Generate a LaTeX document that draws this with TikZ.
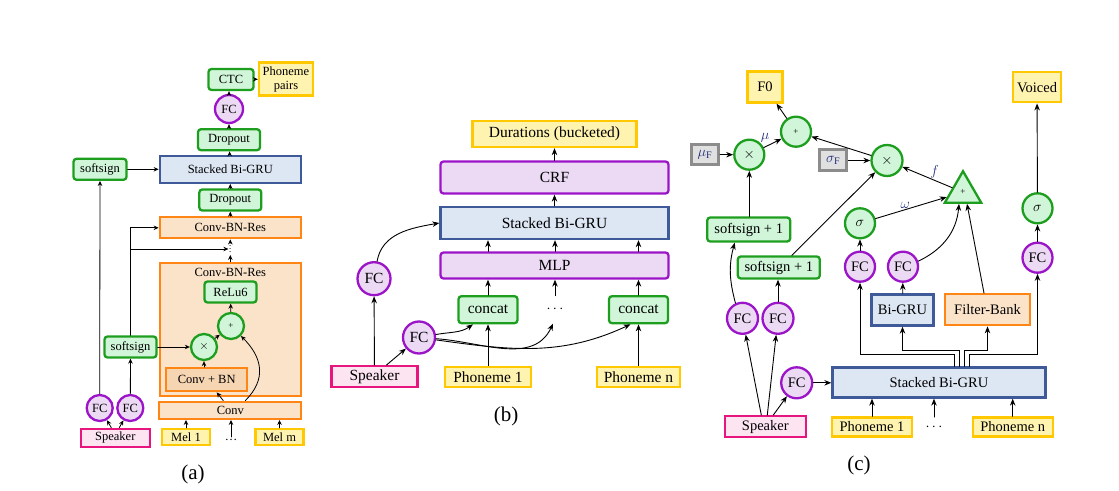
\documentclass[tikz,border=0pt]{standalone}
\usepackage{fontspec}
\setmainfont{Liberation Serif}
\usetikzlibrary{arrows.meta,shapes.geometric}
\tikzset{>={Stealth[length=7pt,width=5.5pt]}}
\definecolor{LeafGreen}{HTML}{1E9E1E}
\definecolor{MintGreen}{HTML}{D0F5D8}
\definecolor{SteelBlue}{HTML}{3F5A99}
\definecolor{IceBlue}{HTML}{DDE6F3}
\definecolor{Tangerine}{HTML}{FF8514}
\definecolor{Peach}{HTML}{FAE3C9}
\definecolor{DeepPeach}{HTML}{F6D5B2}
\definecolor{Gold}{HTML}{FFC800}
\definecolor{Cream}{HTML}{FFF3B0}
\definecolor{Magenta}{HTML}{E8157F}
\definecolor{Blush}{HTML}{FCE4F1}
\definecolor{Violet}{HTML}{9B14C8}
\definecolor{Lavender}{HTML}{ECDAF4}
\definecolor{Navy}{HTML}{26307A}
\colorlet{GreenLine}{LeafGreen}
\colorlet{GreenFill}{MintGreen}
\colorlet{BlueLine}{SteelBlue}
\colorlet{BlueFill}{IceBlue}
\colorlet{OrangeLine}{Tangerine}
\colorlet{OrangeFill}{Peach}
\colorlet{YellowLine}{Gold}
\colorlet{YellowFill}{Cream}
\colorlet{PinkLine}{Magenta}
\colorlet{PinkFill}{Blush}
\colorlet{PurpleLine}{Violet}
\colorlet{PurpleFill}{Lavender}
\colorlet{GrayLine}{black!45}
\colorlet{GrayFill}{black!12}
\tikzset{
  BoxBase/.style={inner sep=0pt, line width=2.3pt},
  BoxSize/.style 2 args={minimum width=#1, minimum height=#2},
  GreenBox/.style={BoxBase, draw=GreenLine, fill=GreenFill, rounded corners=3pt},
  BlueBox/.style={BoxBase, draw=BlueLine, fill=BlueFill},
  OrangeBox/.style={BoxBase, draw=OrangeLine, fill=OrangeFill},
  YellowBox/.style={BoxBase, draw=YellowLine, fill=YellowFill},
  PinkBox/.style={BoxBase, draw=PinkLine, fill=PinkFill},
  PurpleBox/.style={BoxBase, draw=PurpleLine, fill=PurpleFill, rounded corners=3pt},
  GrayBox/.style={BoxBase, draw=GrayLine, fill=GrayFill, line width=3pt, text=Navy},
  PurpleCircle/.style={BoxBase, circle, draw=PurpleLine, fill=PurpleFill, minimum size=#1},
  GreenCircle/.style={BoxBase, circle, draw=GreenLine, fill=GreenFill, minimum size=#1},
  EdgeLabel/.style={text=Navy, inner sep=1pt}
}

\begin{document}
\begin{tikzpicture}[x=1pt, y=1pt, line width=0.9pt, line cap=round]
    \def\SizeA{\fontsize{12.5}{14}\selectfont}
    \def\SizeB{\fontsize{15.5}{18}\selectfont}
    \def\SizeC{\fontsize{14.5}{17}\selectfont}
    \def\SizeOp{\fontsize{9}{10}\selectfont}
    \def\SizeCap{\fontsize{21}{24}\selectfont}
    \useasboundingbox (0,0) rectangle (1119,490);

    % (a)
    \begin{scope}[font=\SizeA, >={Stealth[length=5pt,width=4.5pt]}, line width=0.8pt]
    \node[OrangeBox, BoxSize={141}{133}] (resBigA) at (230.3,160.7) {};
    \node (resTitleA) at (230.3,217.7) {Conv-BN-Res};
    \node[GreenBox, BoxSize={52}{21}] (reluA) at (230.5,198) {ReLu6};
    \node[GreenCircle=26, font=\SizeOp] (plusA) at (231,164) {+};
    \node[GreenCircle=26] (timesA) at (204,143) {$\times$};
    \node[OrangeBox, fill=DeepPeach, BoxSize={81}{23}] (convbnA) at (206.7,110.3) {Conv + BN};
    \node[OrangeBox, BoxSize={142}{17}] (convA) at (230.3,79.7) {Conv};
    \node[rotate=90, inner sep=1pt, font=\SizeOp] (dotsMidA) at (230.3,241) {\dots};
    \node[OrangeBox, BoxSize={141}{21}] (resTopA) at (230.3,262.2) {Conv-BN-Res};
    \node[GreenBox, BoxSize={62}{21}] (dropLowA) at (230.3,290) {Dropout};
    \node[BlueBox, BoxSize={141}{27}] (gruA) at (230.3,320.7) {Stacked Bi-GRU};
    \node[GreenBox, BoxSize={62}{21}] (dropTopA) at (229,350.3) {Dropout};
    \node[PurpleCircle=28] (fcTopA) at (229,381) {FC};
    \node[GreenBox, BoxSize={45}{21}] (ctcA) at (231,410.5) {CTC};
    \node[YellowBox, BoxSize={54}{33}, align=center] (pairsA) at (286,411) {Phoneme\\pairs};
    \node[GreenBox, BoxSize={53}{21}] (softUpA) at (100,320.7) {softsign};
    \node[GreenBox, BoxSize={52}{21}] (softLowA) at (130.5,143) {softsign};
    \node[PurpleCircle=26] (fcLA) at (99.7,82) {FC};
    \node[PurpleCircle=26] (fcRA) at (130.3,82) {FC};
    \node[PinkBox, BoxSize={69}{18}] (speakerA) at (115.3,52.2) {Speaker};
    \node[YellowBox, BoxSize={48}{16}] (mel1A) at (186,53) {Mel 1};
    \node[inner sep=2pt] (dotsA) at (231,50) {\dots};
    \node[YellowBox, BoxSize={48}{16}] (melmA) at (279.5,53) {Mel m};
    \node[font=\SizeCap] (capA) at (193,16) {(a)};

    \foreach \n in {mel1A,dotsA,melmA}
        \draw[->] (\n) -- (\n |- convA.south);
    \draw[->] ([xshift=-7pt]convA.north) -- ([xshift=10pt]convbnA.south);
    \draw[->] ([xshift=15pt]convA.north) to[out=45, in=-45, looseness=1.2] (plusA.south east);
    \draw[->] (convbnA.north -| timesA) -- (timesA);
    \draw[->] (timesA) -- (plusA);
    \draw[->] (plusA) -- (reluA);
    \draw[->] (softLowA) -- (timesA);
    \draw[->] (softLowA.north) |- (resTopA.west);
    \draw[->] (softLowA.north |- dotsMidA) -- (dotsMidA);
    \draw[->] (resBigA.north) -- (dotsMidA);
    \draw[->] (dotsMidA) -- (resTopA);
    \draw[->] (resTopA) -- (dropLowA);
    \draw[->] (dropLowA) -- (gruA);
    \draw[->] (gruA) -- (dropTopA);
    \draw[->] (dropTopA) -- (fcTopA);
    \draw[->] (fcTopA) -- (fcTopA |- ctcA.south);
    \draw[->] (ctcA) -- (pairsA);
    \draw[->] (softUpA) -- (gruA);
    \draw[->] (fcLA) -- (softUpA);
    \draw[->] (fcRA) -- (softLowA);
    \draw[->] ([xshift=-4pt]speakerA.north) -- (fcLA);
    \draw[->] ([xshift=4pt]speakerA.north) -- (fcRA);
    \end{scope}

    % (b)
    \begin{scope}[font=\SizeB]
    \node[YellowBox, BoxSize={164}{26}] (durB) at (554.5,356) {Durations (bucketed)};
    \node[PurpleBox, BoxSize={228}{32}] (crfB) at (554.5,312.5) {CRF};
    \node[BlueBox, BoxSize={228}{32}] (gruB) at (554.5,267) {Stacked Bi-GRU};
    \node[PurpleBox, BoxSize={228}{26}] (mlpB) at (554.5,224.5) {MLP};
    \node[PurpleCircle=33] (fcUpB) at (374,211.3) {FC};
    \node[GreenBox, BoxSize={59}{27}] (concat1B) at (488,180.3) {concat};
    \node[minimum height=27, inner sep=0pt] (dotsB) at (555,180.3) {$\cdots$};
    \node[GreenBox, BoxSize={59}{27}] (concatnB) at (638.5,180.3) {concat};
    \node[PurpleCircle=32] (fcLowB) at (419,152.5) {FC};
    \node[PinkBox, BoxSize={86}{21}] (speakerB) at (374.5,113.3) {Speaker};
    \node[YellowBox, BoxSize={86}{20}] (pho1B) at (488,113.3) {Phoneme 1};
    \node[YellowBox, BoxSize={83}{20}] (phonB) at (638.5,113.3) {Phoneme n};
    \node[font=\SizeCap] (capB) at (506,74) {(b)};

    \draw[->] (speakerB) -- (fcUpB);
    \draw[->] ([xshift=12pt]speakerB.north) -- (fcLowB);
    \draw[->] (fcUpB) to[out=80, in=190] (gruB.west);
    \draw[->] (fcLowB) to[out=10, in=-145] ([xshift=-15pt]concat1B.south);
    \draw[->] (fcLowB) to[out=-4, in=-115] ([xshift=-2pt]dotsB.south);
    \draw[->] (fcLowB) to[out=-8, in=-155] ([xshift=-8pt]concatnB.south);
    \draw[->] (pho1B) -- (concat1B);
    \draw[->] (phonB) -- (concatnB);
    \foreach \n in {concat1B,dotsB,concatnB} {
        \draw[->] (\n) -- (mlpB.south -| \n);
        \draw[->] (mlpB.north -| \n) -- (gruB.south -| \n);
    }
    \draw[->] (gruB) -- (crfB);
    \draw[->] (crfB) -- (durB);
    \end{scope}

    % (c)
    \begin{scope}[font=\SizeC]
    \node[YellowBox, BoxSize={35}{31}] (f0C) at (765,403) {F0};
    \node[GreenCircle=30, font=\SizeOp] (plusC) at (796,358.3) {+};
    \node[GreenCircle=30] (timesMuC) at (749.3,335.3) {$\times$};
    \node[GrayBox, BoxSize={27}{20}] (muFC) at (705,335.3) {$\mu_{\mathrm{F}}$};
    \node[GreenBox, BoxSize={83}{24}] (softUpC) at (748.7,260.5) {softsign + 1};
    \node[GreenBox, BoxSize={82}{22}] (softLowC) at (778.8,222.5) {softsign + 1};
    \node[GrayBox, BoxSize={27}{21}] (sigFC) at (833.3,329.5) {$\sigma_{\mathrm{F}}$};
    \node[GreenCircle=31] (timesSigC) at (887,329.5) {$\times$};
    \node[GreenCircle=30] (sigLC) at (860,266.7) {$\sigma$};
    \node[PurpleCircle=30] (fcLC) at (860,223.3) {FC};
    \node[PurpleCircle=30] (fcMC) at (903,223.3) {FC};
    \node[BoxBase, regular polygon, regular polygon sides=3, draw=GreenLine,
          fill=GreenFill, minimum size=42, font=\SizeOp] (triC) at (963,297.8) {+};
    \node[YellowBox, BoxSize={48}{30}] (voicedC) at (1037,402.7) {Voiced};
    \node[GreenCircle=30] (sigRC) at (1037.5,281.7) {$\sigma$};
    \node[PurpleCircle=30] (fcRC) at (1037.5,232.3) {FC};
    \node[BlueBox, BoxSize={62}{31}] (bigruC) at (902.5,180) {Bi-GRU};
    \node[OrangeBox, BoxSize={85}{31}] (filterC) at (987.5,180.3) {Filter-Bank};
    \node[BlueBox, BoxSize={213}{30}] (gruC) at (939,107.5) {Stacked Bi-GRU};
    \node[PurpleCircle=31] (fcAC) at (742.5,171.7) {FC};
    \node[PurpleCircle=31] (fcBC) at (778,171.7) {FC};
    \node[PurpleCircle=31] (fcCC) at (796.7,107.2) {FC};
    \node[PinkBox, BoxSize={81}{21}] (speakerC) at (765.3,63.3) {Speaker};
    \node[YellowBox, BoxSize={80}{19}] (pho1C) at (872,63) {Phoneme 1};
    \node[minimum height=19, inner sep=0pt] (dotsC) at (934,63) {$\cdots$};
    \node[YellowBox, BoxSize={80}{19}] (phonC) at (1012.7,63) {Phoneme n};
    \node[font=\SizeCap] (capC) at (859,25) {(c)};

    \foreach \n in {pho1C,dotsC,phonC}
        \draw[->] (\n) -- (gruC.south -| \n);
    \draw[->] ([xshift=-4pt]speakerC.north) -- (fcAC);
    \draw[->] ([xshift=2pt]speakerC.north) -- (fcBC);
    \draw[->] ([xshift=8pt]speakerC.north) -- (fcCC);
    \draw[->] (fcCC) -- (gruC.west |- fcCC);
    \draw[->] (fcAC.115) to[out=105, in=-105] ([xshift=-14pt]softUpC.south);
    \draw[->] (fcBC) -- (fcBC |- softLowC.south);
    \draw[->] (softUpC.north -| timesMuC) -- (timesMuC);
    \draw[->] ([xshift=13pt]softLowC.north) -- (timesSigC);
    \draw[->] (muFC) -- (timesMuC);
    \draw[->] (sigFC) -- (timesSigC);
    \draw[->] (timesMuC) -- node[EdgeLabel, pos=0.4, above left=0pt] {$\mu$} (plusC);
    \draw[->] (timesSigC) -- (plusC);
    \draw[->] (plusC) -- (f0C);
    \draw[->] (triC) -- node[EdgeLabel, pos=0.35, above=1pt] {$f$} (timesSigC);
    \draw[->] (sigLC) -- node[EdgeLabel, pos=0.42, above] {$\omega$} (triC);
    \draw[->] (fcLC) -- (sigLC);
    \draw[->] (fcMC.20) to[out=25, in=-95] ([xshift=-4pt]triC.south);
    \draw[->] ([xshift=-3.5pt]filterC.north) -- ([xshift=4pt]triC.south);
    \draw[->] (bigruC) -- (fcMC);
    \draw[->] (fcRC) -- (sigRC);
    \draw[->] (sigRC) -- (voicedC);
    \draw[->] ([xshift=15pt]gruC.north) -- ++(0,12) -| (fcLC);
    \draw[->] ([xshift=20pt]gruC.north) -- ++(0,16) -| (bigruC);
    \draw[->] ([xshift=25pt]gruC.north) -- ++(0,16) -| (filterC);
    \draw[->] ([xshift=30pt]gruC.north) -- ++(0,12) -| (fcRC);
    \end{scope}
\end{tikzpicture}
\end{document}
